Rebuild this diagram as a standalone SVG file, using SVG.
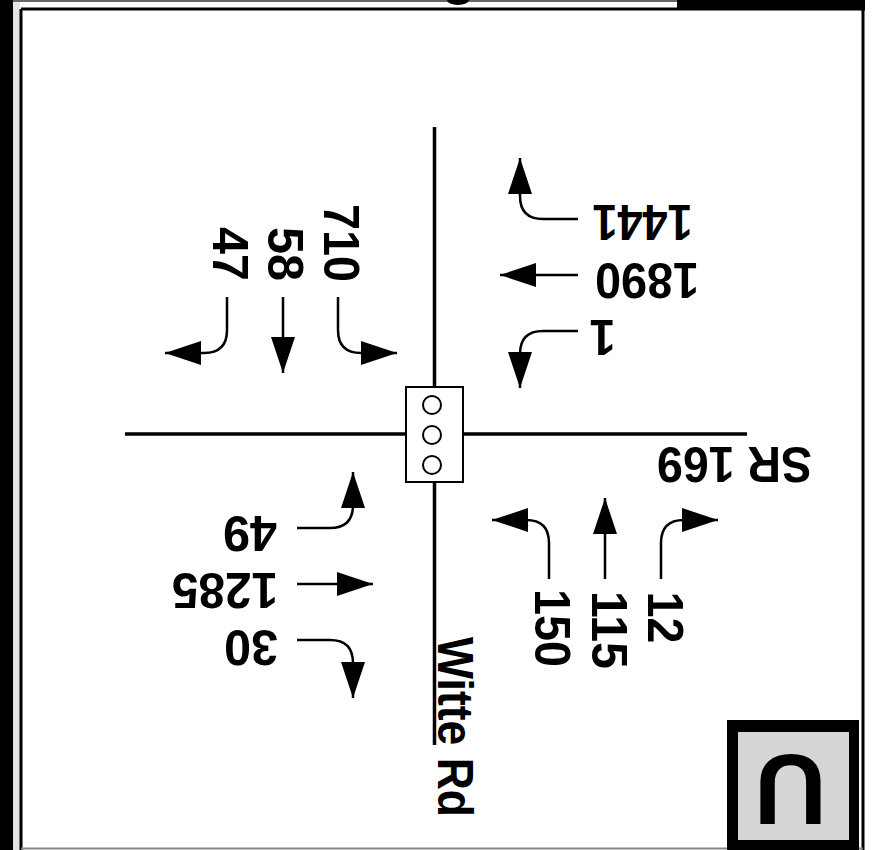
<svg xmlns="http://www.w3.org/2000/svg" width="887" height="850" viewBox="0 0 887 850">
<style>
.road{stroke:#000;stroke-width:3.5;fill:none}
.arr{stroke:#000;stroke-width:2.5;fill:none;marker-end:url(#ah)}
.num{font-family:"Liberation Sans",Arial,sans-serif;font-weight:bold;font-size:50px;fill:#000;text-anchor:middle}
.frame{stroke:#000;stroke-width:3;fill:none}
</style>
<defs>
<marker id="ah" viewBox="0 0 36 24" refX="36" refY="12" markerWidth="36" markerHeight="24" orient="auto" markerUnits="userSpaceOnUse">
<path d="M0,0 L36,12 L0,24 Z" fill="#000"/>
</marker>
</defs>
<rect x="0" y="0" width="887" height="850" fill="#fff"/>
<g id="frame">
<rect x="0" y="0" width="13" height="850" fill="#000"/>
<rect x="13" y="0" width="7" height="850" fill="#e4e4e4"/>
<rect x="677" y="0" width="188" height="9" fill="#000"/>
<line x1="13" y1="1" x2="677" y2="1" stroke="#666" stroke-width="2"/>
<line x1="21" y1="9" x2="865" y2="9" class="frame"/>
<line x1="21" y1="9" x2="21" y2="850" class="frame"/>
<line x1="863" y1="9" x2="863" y2="850" class="frame"/>
<line x1="21" y1="848.5" x2="863" y2="848.5" stroke="#888" stroke-width="2"/>
<ellipse cx="458" cy="0" rx="11" ry="5" fill="#000"/>
</g>
<g id="roads">
<line x1="434.5" y1="127" x2="434.5" y2="745" class="road"/>
<line x1="125" y1="434" x2="747" y2="434" class="road"/>
</g>
<g id="signal">
<rect x="406" y="387" width="57" height="95" fill="#fff" stroke="#000" stroke-width="2"/>
<circle cx="432" cy="405" r="9" fill="#fff" stroke="#000" stroke-width="2"/>
<circle cx="432" cy="435" r="9" fill="#fff" stroke="#000" stroke-width="2"/>
<circle cx="432" cy="465" r="9" fill="#fff" stroke="#000" stroke-width="2"/>
</g>
<g id="connectors">
<path class="arr" d="M227,297 V330 Q227,353 204,353 H165"/>
<path class="arr" d="M283,297 V373"/>
<path class="arr" d="M338,297 V330 Q338,353 361,353 H397"/>
<path class="arr" d="M578,219 H543 Q520,219 520,196 V158"/>
<path class="arr" d="M578,275 H500"/>
<path class="arr" d="M578,331 H543 Q520,331 520,354 V388"/>
<path class="arr" d="M297,528 H330 Q353,528 353,505 V472"/>
<path class="arr" d="M297,584 H373"/>
<path class="arr" d="M297,640 H330 Q353,640 353,663 V698"/>
<path class="arr" d="M549,579 V543 Q549,520 526,520 H492"/>
<path class="arr" d="M605,579 V498"/>
<path class="arr" d="M661,579 V543 Q661,520 684,520 H718"/>
</g>
<g id="labels">
<text class="num" transform="translate(213,254) rotate(90)" textLength="54" lengthAdjust="spacingAndGlyphs">47</text>
<text class="num" transform="translate(268,254) rotate(90)" textLength="54" lengthAdjust="spacingAndGlyphs">58</text>
<text class="num" transform="translate(324,243) rotate(90)" textLength="78" lengthAdjust="spacingAndGlyphs">710</text>
<text class="num" transform="translate(642.5,205) rotate(180)" textLength="100" lengthAdjust="spacingAndGlyphs">1441</text>
<text class="num" transform="translate(647,263) rotate(180)" textLength="104" lengthAdjust="spacingAndGlyphs">1890</text>
<text class="num" transform="translate(602.5,320) rotate(180)" textLength="26" lengthAdjust="spacingAndGlyphs">1</text>
<text class="num" transform="translate(250,516) rotate(180)" textLength="54" lengthAdjust="spacingAndGlyphs">49</text>
<text class="num" transform="translate(225,573) rotate(180)" textLength="106" lengthAdjust="spacingAndGlyphs">1285</text>
<text class="num" transform="translate(251,630) rotate(180)" textLength="54" lengthAdjust="spacingAndGlyphs">30</text>
<text class="num" transform="translate(535,628) rotate(90)" textLength="78" lengthAdjust="spacingAndGlyphs">150</text>
<text class="num" transform="translate(592,630) rotate(90)" textLength="78" lengthAdjust="spacingAndGlyphs">115</text>
<text class="num" transform="translate(648,617.5) rotate(90)" textLength="52" lengthAdjust="spacingAndGlyphs">12</text>
<text class="num" transform="translate(734.5,447) rotate(180)" textLength="155" lengthAdjust="spacingAndGlyphs">SR 169</text>
<text class="num" transform="translate(438,727) rotate(90)" textLength="180" lengthAdjust="spacingAndGlyphs">Witte Rd</text>
</g>
<g id="ubox">
<rect x="727" y="720" width="132" height="140" fill="#000"/>
<rect x="738" y="732" width="111" height="108" fill="#d6d6d6"/>
<text class="num" style="font-size:100px" transform="translate(790.5,755) rotate(180)">U</text>
</g>
</svg>
